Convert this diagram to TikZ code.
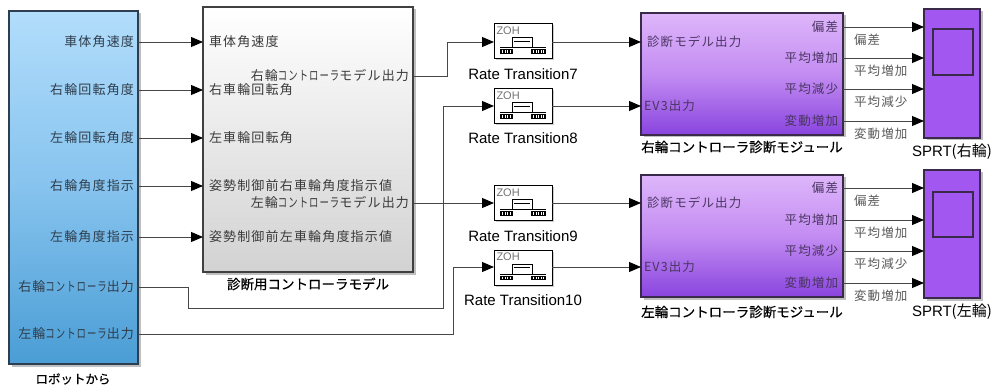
\documentclass[tikz,border=0pt]{standalone}
\usepackage{fontspec}
\setmainfont{Liberation Sans}
\newfontfamily\jp{Noto Sans CJK JP}
\newfontfamily\jpcap[FakeBold=0.5]{Noto Sans CJK JP}
\newfontfamily\jpsp[LetterSpace=9]{Noto Sans CJK JP}
\newfontfamily\jpnar[FakeStretch=0.72,LetterSpace=8]{Noto Sans CJK JP}
\newcommand\narkana[1]{{\jpnar #1}}
\usetikzlibrary{arrows.meta,shadows,calc}

\definecolor{robotTop}{HTML}{B2DDFB}
\definecolor{robotMid}{HTML}{86C3EE}
\definecolor{robotBot}{HTML}{4A9DD5}
\definecolor{robotEdge}{HTML}{2C3E50}
\definecolor{modelBot}{HTML}{D2D2D2}
\definecolor{diagTop}{HTML}{DEB6FA}
\definecolor{diagMid}{HTML}{C38CF2}
\definecolor{diagBot}{HTML}{8944DE}
\definecolor{diagEdge}{HTML}{3A2A4A}
\definecolor{sprtFill}{HTML}{A357F1}
\definecolor{lblBlue}{HTML}{2F3D4C}
\definecolor{lblGrey}{HTML}{3A3A3A}
\definecolor{lblPurple}{HTML}{4A3562}

\begin{document}
\begin{tikzpicture}[x=1pt,y=-1pt,
  every node/.style={inner sep=0pt,outer sep=0pt},
  blockshadow/.style={drop shadow={shadow xshift=2.5pt,shadow yshift=-2.5pt,fill=black!50,opacity=0.5}},
  wire/.style={draw=black!72,line width=0.9pt},
  sig/.style={wire,-{Triangle[length=12pt,width=10pt,color=black]}},
  portlbl/.style={font=\jpsp\fontsize{13}{14}\selectfont,text=lblBlue},
  modlbl/.style={font=\jpsp\fontsize{13}{14}\selectfont,text=lblGrey},
  diaglbl/.style={font=\jpsp\fontsize{12.5}{13}\selectfont,text=lblPurple},
  wirelbl/.style={font=\jpsp\fontsize{12.5}{13}\selectfont,text=black!65},
  caption/.style={font=\jpcap\fontsize{13.5}{14}\selectfont,text=black},
  latincap/.style={font=\fontsize{15}{16}\selectfont,text=black},
  rtbox/.style={draw=black,line width=1pt,fill=white,minimum width=58pt,minimum height=35pt,anchor=north west,
    drop shadow={shadow xshift=1.5pt,shadow yshift=-1.5pt,fill=black!40,opacity=0.5}},
  diagbox/.style={blockshadow,draw=diagEdge,line width=1.2pt,top color=diagTop,bottom color=diagBot,middle color=diagMid,
    minimum width=202pt,minimum height=122pt,anchor=north west},
  sprtbox/.style={blockshadow,draw=diagEdge,line width=1.2pt,fill=sprtFill,minimum width=56pt,anchor=north west},
  scopewin/.style={draw=diagEdge,line width=1.1pt,fill=sprtFill,minimum width=40pt,anchor=north west}
]
\useasboundingbox (0,0) rectangle (993,390);

% ---------- blocks ----------
\node[blockshadow,draw=robotEdge,line width=1.3pt,top color=robotTop,bottom color=robotBot,middle color=robotMid,
      minimum width=129pt,minimum height=353pt,anchor=north west] (robot) at (9,11) {};
\node[blockshadow,draw=black!75,line width=1.2pt,top color=white,bottom color=modelBot,
      minimum width=210pt,minimum height=265pt,anchor=north west] (model) at (203,7) {};

\node[rtbox] (rt7)  at (494,24) {};
\node[rtbox] (rt8)  at (494,89) {};
\node[rtbox] (rt9)  at (494,186) {};
\node[rtbox] (rt10) at (494,250) {};

\node[diagbox] (diagR) at (641,13) {};
\node[diagbox] (diagL) at (641,175) {};

\node[sprtbox,minimum height=129pt] (sprtR) at (924,9) {};
\node[sprtbox,minimum height=128pt] (sprtL) at (924,170) {};
\node[scopewin,minimum height=46pt] (winR) at (933,29) {};
\node[scopewin,minimum height=45pt] (winL) at (933,192) {};

% ---------- zero-order-hold icons ----------
\foreach \n in {rt7,rt8,rt9,rt10}{
  \begin{scope}[shift={(\n.north west)}]
    \node[anchor=west,font=\fontsize{11}{11}\selectfont,text=black!55] (\n-zoh) at (2.5,6.5) {ZOH};
    \draw[line width=1pt] (6,24) -- (52,24);
    \draw[line width=1pt] (18,24) -- (18,14) -- (38,14) -- (38,24);
    \draw[line width=0.8pt] (20,17) -- (36,17);
    \fill (6,25.5) rectangle (19,30);
    \fill (37,25.5) rectangle (52,30);
    \foreach \xx in {8.5,11,13.5,16}{\draw[white,line width=0.6pt] (\xx,26.5) -- (\xx,29);}
    \foreach \xx in {39.5,42,44.5,47,49.5}{\draw[white,line width=0.6pt] (\xx,26.5) -- (\xx,29);}
  \end{scope}
}

% ---------- port coordinates ----------
\foreach \i/\yy in {1/42,2/90,3/138,4/186,5/237,6/287,7/334}{\coordinate (ro\i) at (138,\yy);}
\foreach \i/\yy in {1/42,2/90,3/138,4/186,5/237}{\coordinate (mi\i) at (203,\yy);}
\coordinate (mo1) at (413,76);
\coordinate (mo2) at (413,203);
\foreach \r/\yy in {rt7/42,rt8/106,rt9/203,rt10/267}{\coordinate (\r-in) at (494,\yy); \coordinate (\r-out) at (552,\yy);}
\coordinate (dRi1) at (641,42);  \coordinate (dRi2) at (641,106);
\coordinate (dLi1) at (641,203); \coordinate (dLi2) at (641,267);
\foreach \i/\yy in {1/27,2/58,3/89,4/121}{\coordinate (dRo\i) at (843,\yy); \coordinate (sRi\i) at (924,\yy);}
\foreach \i/\yy in {1/188,2/220,3/251,4/283}{\coordinate (dLo\i) at (843,\yy); \coordinate (sLi\i) at (924,\yy);}
\coordinate (b1a) at (447,76);  \coordinate (b1b) at (447,42);
\coordinate (b6a) at (188,287); \coordinate (b6b) at (188,308);
\coordinate (b6c) at (443,308); \coordinate (b6d) at (443,106);
\coordinate (b7a) at (453,334); \coordinate (b7b) at (453,267);

% ---------- connectors ----------
\foreach \i in {1,...,5}{\draw[sig] (ro\i) -- (mi\i);}
\draw[sig] (mo1) -- (b1a) -- (b1b) -- (rt7-in);
\draw[sig] (mo2) -- (rt9-in);
\draw[sig] (ro6) -- (b6a) -- (b6b) -- (b6c) -- (b6d) -- (rt8-in);
\draw[sig] (ro7) -- (b7a) -- (b7b) -- (rt10-in);
\draw[sig] (rt7-out) -- (dRi1);
\draw[sig] (rt8-out) -- (dRi2);
\draw[sig] (rt9-out) -- (dLi1);
\draw[sig] (rt10-out) -- (dLi2);
\foreach \i in {1,...,4}{\draw[sig] (dRo\i) -- (sRi\i); \draw[sig] (dLo\i) -- (sLi\i);}

% ---------- source block labels ----------
\foreach \i/\t in {1/車体角速度,2/右輪回転角度,3/左輪回転角度,4/右輪角度指示,5/左輪角度指示,
                   6/右輪\narkana{コントローラ}出力,7/左輪\narkana{コントローラ}出力}{
  \node[portlbl,anchor=east] (rl\i) at ($(ro\i)+(-4,0)$) {\t};
}
\node[caption,font=\jpcap\fontsize{12.5}{13}\selectfont] (robotcap) at (73,379) {ロボットから};

% ---------- controller model labels ----------
\foreach \i/\t in {1/車体角速度,2/右車輪回転角,3/左車輪回転角,4/姿勢制御前右車輪角度指示値,5/姿勢制御前左車輪角度指示値}{
  \node[modlbl,anchor=west] (ml\i) at ($(mi\i)+(6,0)$) {\t};
}
\node[modlbl,anchor=east] (mol1) at ($(mo1)+(-4,0)$) {右輪\narkana{コントローラ}モデル出力};
\node[modlbl,anchor=east] (mol2) at ($(mo2)+(-4,0)$) {左輪\narkana{コントローラ}モデル出力};
\node[caption] (modelcap) at (308,284) {診断用コントローラモデル};

% ---------- rate transition captions ----------
\node[latincap] (rt7cap)  at (523,74)  {Rate Transition7};
\node[latincap] (rt8cap)  at (523,138) {Rate Transition8};
\node[latincap] (rt9cap)  at (523,236) {Rate Transition9};
\node[latincap] (rt10cap) at (523,300) {Rate Transition10};

% ---------- diagnosis module labels ----------
\foreach \d in {R,L}{
  \node[diaglbl,anchor=west] (\d-in1) at ($(d\d i1)+(6,0)$) {診断モデル出力};
  \node[diaglbl,anchor=west] (\d-in2) at ($(d\d i2)+(3,0)$) {EV3出力};
  \foreach \i/\t in {1/偏差,2/平均増加,3/平均減少,4/変動増加}{
    \node[diaglbl,anchor=east] (\d-out\i) at ($(d\d o\i)+(-5,0)$) {\t};
    \node[wirelbl,anchor=west] (\d-w\i) at ($(d\d o\i)+(11,12.5)$) {\t};
  }
}
\node[caption] (diagRcap) at (742,147) {右輪コントローラ診断モジュール};
\node[caption] (diagLcap) at (742,312) {左輪コントローラ診断モジュール};

% ---------- SPRT captions ----------
\node[latincap,anchor=west] (sprtRcap) at (912,152) {SPRT{\jp (右輪)}};
\node[latincap,anchor=west] (sprtLcap) at (912,312) {SPRT{\jp (左輪)}};
\end{tikzpicture}
\end{document}
